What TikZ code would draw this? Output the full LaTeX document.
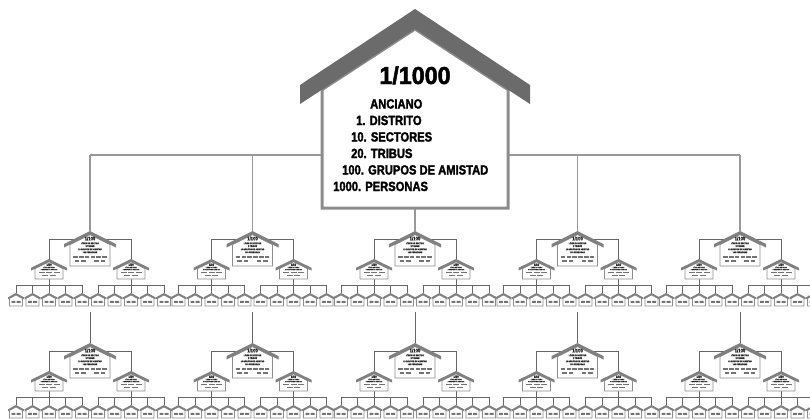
\documentclass[tikz,border=0pt]{standalone}
\usepackage{fontspec}
\setmainfont{Liberation Sans}
\newfontfamily\rotulo{Liberation Sans}[FakeStretch=0.84,BoldFeatures={FakeBold=2}]
\newfontfamily\cifra{Liberation Sans}[FakeStretch=0.95,BoldFeatures={FakeBold=2}]
\usetikzlibrary{calc}

\begin{document}
\begin{tikzpicture}[x=1pt,y=-1pt,
  linea/.style={draw=black!60,line width=1pt},
  lineagruesa/.style={draw=black!40,line width=1.8pt},
  techo/.style={fill=black!50},
  cuerpo/.style={fill=white,draw=black!45,line width=0.8pt},
  bloque/.style={fill=black!55},
  letrita/.style={font=\rotulo\bfseries\fontsize{#1}{#1}\selectfont,inner sep=0,text=black!85},
  % casa de 1/100
  pics/casamedia/.style={code={
    \filldraw[cuerpo] (-20,35) -- (-20,13.6) -- (0,3.6) -- (20,13.6) -- (20,35) -- cycle;
    \fill[techo] (0,0) -- (26,13) -- (26,16.6) -- (0,3.6) -- (-26,16.6) -- (-26,13) -- cycle;
    \node[letrita=5] (-cien) at (0,7.6) {1/100};
    \node[letrita=2.3] (-l1) at (0,12.2) {LÍDER DE SECTOR};
    \node[letrita=2.3] (-l2) at (0,15.2) {2 TRIBUS};
    \node[letrita=2.3] (-l3) at (0,18.4) {10 GRUPOS DE AMISTAD};
    \node[letrita=2.3] (-l4) at (0,21.4) {100 PERSONAS};
    \foreach \c in {-14.5,-8.7,-2.9,2.9,8.7,14.5}
      \fill[bloque] (\c-2.3,25.3) rectangle (\c+2.3,27.3);
    \foreach \c in {-13,-6.5,6.5,13}
      \fill[bloque] (\c-2.3,29.3) rectangle (\c+2.3,31.3);
  }},
  % casa de 1/50
  pics/casachica/.style={code={
    \filldraw[cuerpo,line width=0.7pt] (-14,20) -- (-14,9.65) -- (0,2.8) -- (14,9.65) -- (14,20) -- cycle;
    \fill[techo] (0,0) -- (18,8.8) -- (18,11.6) -- (0,2.8) -- (-18,11.6) -- (-18,8.8) -- cycle;
    \node[letrita=3.2] (-cin) at (0,5.7) {1/50};
    \node[letrita=1.7] (-l1) at (0,8.4) {LÍDER DE TRIBU};
    \node[letrita=1.7] (-l2) at (0,10.6) {5 GRUPOS DE AMISTAD};
    \foreach \c in {-7.5,0,7.5}
      \fill[bloque] (\c-3,12.6) rectangle (\c+3,14.4);
    \foreach \c in {-3.75,3.75}
      \fill[bloque] (\c-3,15.6) rectangle (\c+3,17.4);
  }},
  % casa de 1/10
  pics/casita/.style={code={
    \filldraw[cuerpo,line width=0.6pt] (-6.5,13) -- (-6.5,5.5) -- (0,2) -- (6.5,5.5) -- (6.5,13) -- cycle;
    \fill[techo] (0,0) -- (8,4.3) -- (8,6.3) -- (0,2) -- (-8,6.3) -- (-8,4.3) -- cycle;
    \fill[bloque] (-4.5,7.8) rectangle (-0.6,9.8) (0.6,7.8) rectangle (4.5,9.8);
  }}]
  \fill[white] (0,0) rectangle (810,418);
  \useasboundingbox (0,0) rectangle (810,418);
  % puntos de cada grupo
  \foreach \x [count=\i] in {90,252.5,415,577.5,740}{
    \coordinate (c\i) at (\x,155);
    \foreach \y [count=\j] in {231,343}{
      \coordinate (m\i\j) at (\x,\y);
      \coordinate (b\i\j) at (\x,\y+8);
      \coordinate (f\i\j) at (\x,\y+81);
      \foreach \s/\l in {-41/a,41/b}{
        \coordinate (s\i\j\l) at (\x+\s,\y+28);
        \coordinate (r\i\j\l) at (\x+\s,\y+54);
        \foreach \k in {-2,...,2}
          \coordinate (t\i\j\l\k) at (\x+\s+\k*16.5,\y+62);
      }
    }
  }
  % lineas
  \draw[lineagruesa] (c1) -- (c5);
  \foreach \i in {1,...,5}{
    \draw[lineagruesa] (c\i) -- (m\i1);
    \draw[linea] (f\i1) -- (m\i2);
    \foreach \j in {1,2}
      \foreach \l in {a,b}{
        \draw[linea] (s\i\j\l) |- (b\i\j);
        \draw[linea] (s\i\j\l) -- (r\i\j\l);
        \foreach \k in {-2,...,2}
          \draw[linea] (t\i\j\l\k) |- (r\i\j\l);
      }
  }
  % casas
  \foreach \i in {1,...,5}
    \foreach \j in {1,2}{
      \pic (p\i\j) at (m\i\j) {casamedia};
      \foreach \l in {a,b}{
        \pic (q\i\j\l) at (s\i\j\l) {casachica};
        \foreach \k in {-2,...,2}
          \pic (v\i\j\l\k) at (t\i\j\l\k) {casita};
      }
    }
  % casa principal
  \filldraw[fill=white,draw=black!45,line width=3pt] (322,208) -- (322,89.6) -- (415,29) -- (508,89.6) -- (508,208) -- cycle;
  \fill[black!58] (415,9) -- (530,85) -- (530,104) -- (415,29) -- (300,104) -- (300,85) -- cycle;
  \node[font=\cifra\bfseries\fontsize{24.5}{24.5}\selectfont,inner sep=0,anchor=base] (titulo) at (415,84) {1/1000};
  \begin{scope}[every node/.style={font=\rotulo\bfseries\fontsize{13.3}{13.3}\selectfont,inner sep=0,anchor=base west}]
    \node (anciano) at (370,108.5) {ANCIANO};
    \node (distrito) at (356,125) {1. DISTRITO};
    \node (sectores) at (351,141.5) {10. SECTORES};
    \node (tribus) at (351,158) {20. TRIBUS};
    \node (grupos) at (342,174.5) {100. GRUPOS DE AMISTAD};
    \node (personas) at (333,191) {1000. PERSONAS};
  \end{scope}
\end{tikzpicture}
\end{document}
